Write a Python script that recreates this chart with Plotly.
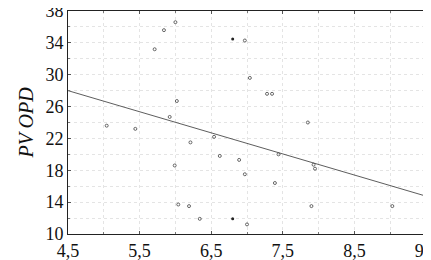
import plotly.graph_objects as go

# Scatter data (open circles)
x_open = [5.04, 5.44, 5.71, 5.84, 6.00, 6.02, 5.92, 6.97, 7.04, 7.28, 7.35, 7.85,
          6.21, 5.99, 6.04, 6.19, 6.34, 6.54, 6.62, 6.89, 6.97, 7.39, 7.44, 7.93,
          7.95, 7.90, 7.00, 9.03]
y_open = [23.6, 23.2, 33.2, 35.6, 36.6, 26.7, 24.7, 34.3, 29.6, 27.6, 27.6, 24.0,
          21.5, 18.6, 13.7, 13.5, 11.9, 22.2, 19.8, 19.3, 17.5, 16.4, 20.0, 18.7,
          18.2, 13.5, 11.2, 13.5]
# Filled points
x_fill = [6.80, 6.80]
y_fill = [34.5, 11.9]
# Regression line endpoints
x_line = [4.5, 9.5]
y_line = [28.0, 14.75]

x_ticks = [4.5, 5.5, 6.5, 7.5, 8.5, 9.5]
x_labels = ["4,5", "5,5", "6,5", "7,5", "8,5", "9,5"]
y_ticks = [10, 14, 18, 22, 26, 30, 34, 38]

FONT = "Liberation Serif, DejaVu Serif, serif"

fig = go.Figure()
fig.add_trace(go.Scatter(x=x_line, y=y_line, mode="lines",
                         line=dict(color="#333333", width=0.8), showlegend=False))
fig.add_trace(go.Scatter(x=x_open, y=y_open, mode="markers",
                         marker=dict(symbol="circle-open", size=3, color="#444444",
                                     line=dict(width=0.8)), showlegend=False))
fig.add_trace(go.Scatter(x=x_fill, y=y_fill, mode="markers",
                         marker=dict(symbol="circle", size=3, color="#222222"),
                         showlegend=False))

fig.update_layout(
    template="none",
    width=431, height=260, margin=dict(l=60, r=13, t=3, b=34),
    plot_bgcolor="white", paper_bgcolor="white",
    font=dict(family=FONT, size=18, color="#111111"),
    xaxis=dict(range=[4.4995, 9.5005], tickmode="array", tickvals=x_ticks,
               ticktext=x_labels,
               showline=True, linecolor="#222222", linewidth=1, mirror="ticks",
               ticks="inside", ticklen=3, tickcolor="#555555",
               showgrid=True, gridcolor="#e4e4e4", griddash="dot",
               zeroline=False, ticklabeloverflow="allow",
               tickfont=dict(family=FONT, size=18, color="#111111"),
               minor=dict(dtick=0.5, tick0=4.5, showgrid=True, gridcolor="#e4e4e4",
                          griddash="dot", ticks="inside", ticklen=2, tickcolor="#777777")),
    yaxis=dict(range=[9.995, 38.005], tickmode="array", tickvals=y_ticks,
               showline=True, linecolor="#222222", linewidth=1, mirror="ticks",
               ticks="inside", ticklen=3, tickcolor="#555555",
               showgrid=True, gridcolor="#e4e4e4", griddash="dot",
               zeroline=False, ticklabeloverflow="allow",
               tickfont=dict(family=FONT, size=18, color="#111111"),
               minor=dict(dtick=2, tick0=10, showgrid=True, gridcolor="#e4e4e4",
                          griddash="dot", ticks="inside", ticklen=2, tickcolor="#777777"),
               title=dict(text="<i>PV OPD</i>", font=dict(family=FONT, size=20, color="#111111"),
                          standoff=6)),
)
fig.write_html("out.html")
